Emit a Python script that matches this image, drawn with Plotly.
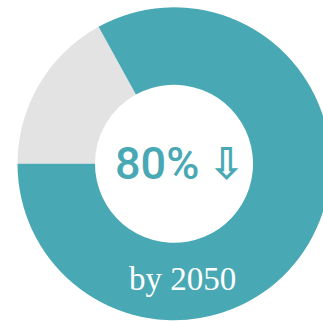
import plotly.graph_objects as go

labels = ["Remaining", "Reduction"]
values = [17, 83]
colors = ["#E3E3E3", "#48A9B4"]
center_label = "80%"
arrow_label = "\u21e9"
sub_label = "by 2050"

W, H = 348, 321
cx, cy, r = 173.8, 163.8, 156.5

fig = go.Figure(go.Pie(
    labels=labels, values=values,
    marker=dict(colors=colors, line=dict(width=0)),
    hole=0.505, sort=False, direction="clockwise", rotation=270,
    textinfo="none", hoverinfo="label+percent", showlegend=False,
    domain=dict(x=[0, 1], y=[(H - (cy + r)) / H, (H - (cy - r)) / H]),
))

fig.add_annotation(x=156.5 / W, y=1 - 163.5 / H, xref="paper", yref="paper",
                   text=center_label, showarrow=False, xanchor="center", yanchor="middle",
                   font=dict(family="Roboto", size=45, color="#48A9B4", weight=500))
fig.add_annotation(x=226 / W, y=1 - 164 / H, xref="paper", yref="paper",
                   text=arrow_label, showarrow=False, xanchor="center", yanchor="middle",
                   font=dict(family="DejaVu Sans", size=44, color="#48A9B4", weight="bold"))
fig.add_annotation(x=182 / W, y=1 - 279 / H, xref="paper", yref="paper",
                   text=sub_label, showarrow=False, xanchor="center", yanchor="middle",
                   font=dict(family="Liberation Serif", size=33, color="white"))

fig.update_layout(width=W, height=H, autosize=False,
                  margin=dict(l=0, r=0, t=0, b=0),
                  paper_bgcolor="white", plot_bgcolor="white")

fig.write_html("out.html", config={"displayModeBar": False},
               post_script="document.body.style.margin='0';document.body.style.overflow='hidden';")
